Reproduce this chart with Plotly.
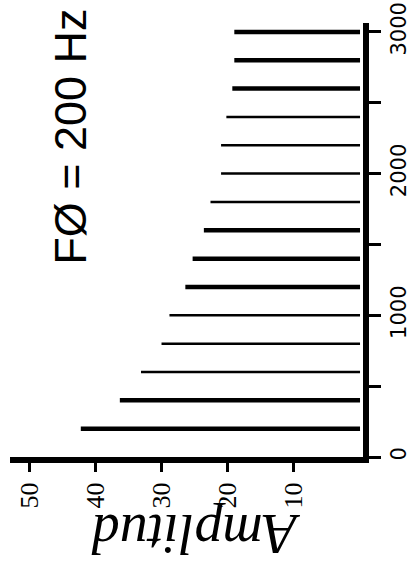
import plotly.graph_objects as go

# Harmonics of F0 = 200 Hz
freqs = [200, 400, 600, 800, 1000, 1200, 1400, 1600, 1800, 2000, 2200, 2400, 2600, 2800, 3000]
amps = [42.2, 36.3, 33.1, 30.0, 28.8, 26.4, 25.3, 23.6, 22.6, 21.0, 21.0, 20.2, 19.3, 19.0, 19.0]
thick = [True, True, False, False, False, True, True, True, False, False, False, False, True, True, True]

amp_ticks = [10, 20, 30, 40, 50]
freq_ticks = [0, 500, 1000, 1500, 2000, 2500, 3000]
freq_labels = ["0", "", "1000", "", "2000", "", "3000"]

def stems(flag):
    xs, ys = [], []
    for f, a, t in zip(freqs, amps, thick):
        if t == flag:
            xs += [0, a, None]
            ys += [f, f, None]
    return xs, ys

fig = go.Figure()
for flag, w in [(True, 4.5), (False, 2.5)]:
    xs, ys = stems(flag)
    fig.add_trace(go.Scatter(x=xs, y=ys, mode="lines",
                             line=dict(color="black", width=w),
                             hoverinfo="skip", showlegend=False))

fig.update_layout(
    width=412, height=572,
    margin=dict(l=10, r=49, t=23, b=115),
    paper_bgcolor="white", plot_bgcolor="white",
    xaxis=dict(range=[52.9, -0.45], showgrid=False, zeroline=False, automargin=False,
               showline=True, linecolor="black", linewidth=6,
               tickmode="array", tickvals=amp_ticks,
               ticks="outside", ticklen=9, tickwidth=3, tickcolor="black",
               tickangle=-90,
               tickfont=dict(family="Liberation Sans Narrow", size=26, color="black")),
    yaxis=dict(range=[0, 3063], side="right", showgrid=False, zeroline=False, automargin=False,
               showline=True, linecolor="black", linewidth=6,
               tickmode="array", tickvals=freq_ticks, ticktext=freq_labels,
               ticks="outside", ticklen=12, tickwidth=2.5, tickcolor="black",
               tickangle=-90,
               tickfont=dict(family="DejaVu Sans", size=21, color="black")),
    annotations=[
        dict(text="FØ = 200 Hz", xref="paper", yref="paper",
             x=0.169, y=0.737, xanchor="center", yanchor="middle",
             showarrow=False, textangle=-90,
             font=dict(family="Liberation Sans", size=45, color="black")),
        dict(text="<i>Amplitud</i>", xref="paper", yref="paper",
             x=0.527, y=-0.177, xanchor="center", yanchor="middle",
             showarrow=False, textangle=180,
             font=dict(family="Liberation Serif", size=56, color="black")),
    ],
)

fig.write_html("out.html")
